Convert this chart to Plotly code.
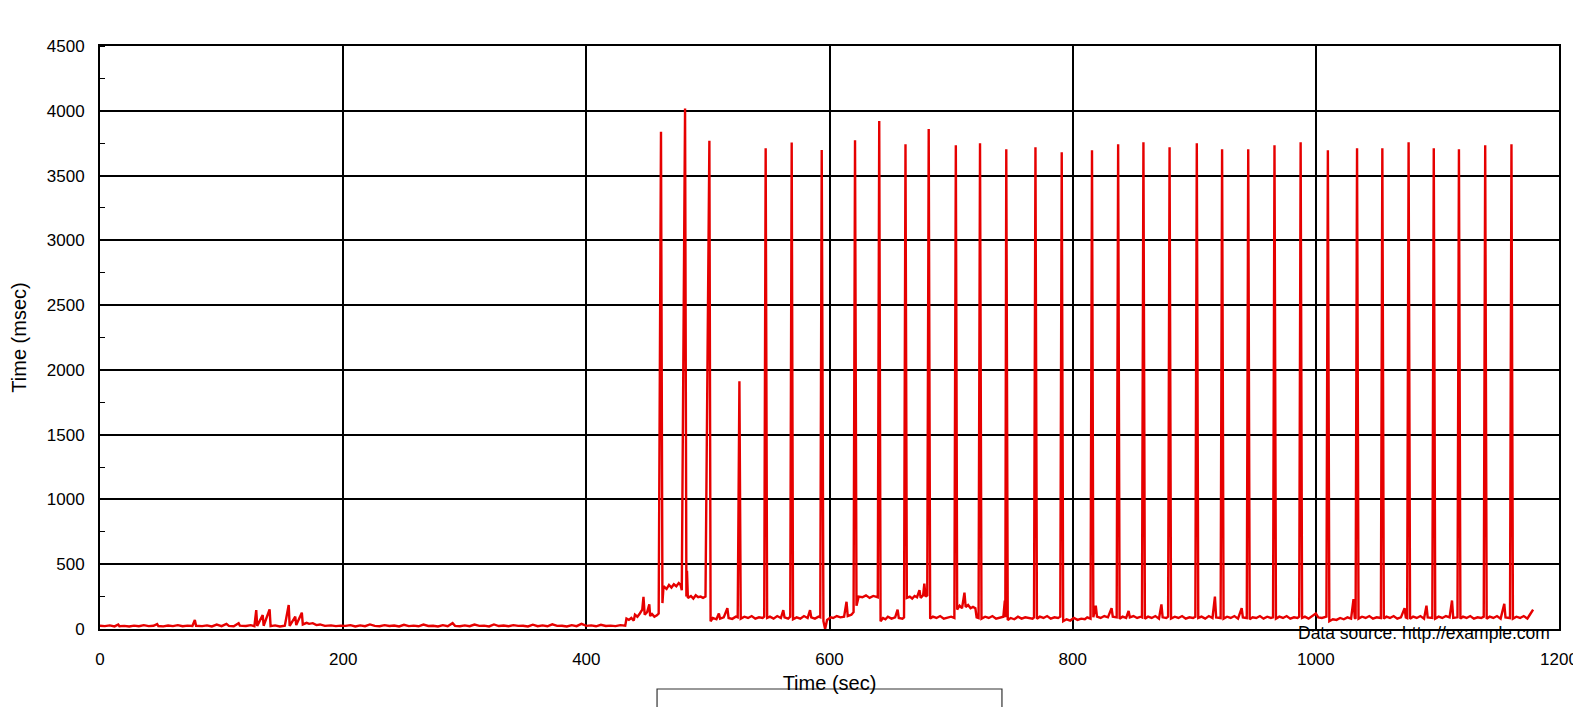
import plotly.graph_objects as go

# Response-time trace (time in sec, value in msec)
time_sec = [
    0, 4, 8, 12, 15, 16, 20, 24, 28, 32, 36, 40, 44, 47, 48, 52, 56, 60, 64, 68, 72, 76, 78, 79,
    84, 88, 92, 96, 100, 104, 106, 110, 114, 115, 120, 124, 127,
    128.5, 129.3, 133.8, 134.6, 139.5, 140.3, 144, 148, 152, 155.2, 156, 160.6, 161.4, 166, 166.8,
    170, 172, 175, 178, 181, 185, 190, 194, 198,
    202, 206, 210, 214, 218, 222, 226, 230, 234, 238, 242, 246, 250, 254, 258, 262, 266, 270, 274,
    278, 282, 286, 290, 292, 296, 300, 304, 308, 312, 316, 320, 324, 328, 332, 336, 340, 344, 348,
    352, 356, 360, 364, 368, 372, 376, 380, 384, 388, 392, 396, 400, 404, 408, 412, 416, 420, 424,
    428, 432,
    433, 435, 437, 439, 440, 442, 444, 446, 447, 448, 450, 451.8, 452.5, 454, 456, 458, 459.5,
    461.4, 462.6, 463.5, 466, 468, 470, 472, 474, 476, 477.5, 478.5,
    481.2, 482.3, 482.8, 483.5, 486, 488, 490, 492, 494, 496, 498,
    501.2, 502.2, 504, 507, 509, 510, 513, 516, 517, 520, 523, 524.5,
    525.9, 527, 530, 533, 536, 539, 542, 545, 546.3,
    547.5, 548.7, 551, 554, 557, 560, 562, 563, 566, 567.7,
    568.9, 570, 573, 576, 579, 582, 584, 585, 588, 591, 592.4,
    593.6, 595, 596.4, 598, 601, 603, 606, 609, 612, 614, 615, 618, 619.8,
    621.0, 622.2, 624, 627, 630, 633, 636, 638, 639.7,
    640.9, 642, 644, 646, 648, 651, 654, 656, 657, 660, 661.3,
    662.5, 663.6, 666, 668, 670, 672, 674, 675, 677, 678, 679, 680.4,
    681.6, 682.8, 685, 688, 691, 694, 697, 700, 702.7,
    703.9, 705, 707, 709, 711, 712, 714, 716, 718, 720, 721, 722.6,
    723.8, 725, 728, 731, 734, 737, 740, 743, 744.2, 744.6,
    745.4, 746.6, 749, 752, 755, 758, 761, 764, 767, 768.2,
    769.4, 770.6, 773, 776, 779, 782, 785, 788, 789.8,
    791.0, 792.2, 795, 798, 801, 804, 807, 810, 812, 814.7,
    815.9, 817, 819, 820, 823, 826, 829, 832, 833, 836.2,
    837.4, 838.6, 841, 844, 846, 847, 850, 853, 856, 857,
    858.2, 859.4, 862, 865, 868, 871, 873, 874, 877, 878.5,
    879.7, 880.9, 884, 887, 890, 893, 896, 899, 900.9,
    902.1, 903.3, 906, 909, 912, 915, 917, 918, 921.7,
    922.9, 924.1, 927, 930, 933, 936, 939, 940, 943.2,
    944.4, 945.6, 948, 951, 954, 957, 960, 963, 964.8,
    966.0, 967.2, 970, 973, 976, 979, 982, 985, 986.3,
    987.5, 988.7, 991, 994, 997, 1000, 1002, 1005, 1008.7,
    1009.9, 1011.1, 1014, 1017, 1020, 1023, 1026, 1029, 1031, 1032, 1032.7,
    1033.9, 1035.1, 1038, 1041, 1044, 1047, 1050, 1053.5,
    1054.7, 1055.9, 1058, 1061, 1064, 1067, 1070, 1073, 1074, 1075.1,
    1076.3, 1077.5, 1080, 1083, 1086, 1089, 1091, 1092, 1095.8,
    1097.0, 1098.2, 1101, 1104, 1107, 1110, 1112, 1113, 1116.5,
    1117.7, 1118.9, 1121, 1124, 1127, 1130, 1133, 1136, 1138.1,
    1139.3, 1140.5, 1143, 1146, 1149, 1152, 1155, 1156, 1159.7,
    1160.9, 1162.1, 1165, 1168, 1171, 1174, 1176, 1178.7,
]

resp_ms = [
    25, 22, 28, 20, 35, 22, 24, 19, 26, 21, 30, 22, 25, 38, 23, 20, 27, 22, 30, 21, 26, 24, 70, 25,
    22, 28, 20, 34, 22, 40, 24, 21, 45, 26, 23, 30, 22,
    146, 24, 108, 25, 152, 22, 28, 20, 26, 185, 24, 95, 30, 126, 35,
    48, 40, 45, 30, 35, 24, 28, 22, 26,
    24, 30, 20, 28, 22, 35, 24, 21, 30, 23, 27, 20, 32, 22, 26, 21, 34, 23, 25,
    20, 30, 22, 45, 24, 21, 28, 22, 34, 24, 26, 20, 35, 23, 27, 21, 30, 24, 25,
    20, 33, 22, 28, 21, 36, 24, 25, 20, 30, 22, 40, 24, 28, 21, 32, 23, 26, 22,
    30, 25,
    80, 70, 85, 65, 110, 95, 120, 150, 248, 110, 130, 190, 100, 115, 95, 105, 120,
    3838, 200, 330, 310, 340, 320, 345, 330, 355, 340, 300,
    4017, 250, 450, 240, 255, 235, 260, 245, 250, 240, 250,
    3769, 60, 85, 75, 119, 80, 90, 160, 85, 78, 95, 90,
    1912, 80, 95, 85, 100, 80, 90, 85, 95,
    3711, 85, 95, 80, 100, 85, 146, 90, 80, 95,
    3755, 75, 90, 80, 100, 85, 146, 90, 80, 95, 90,
    3697, 60, 0, 70, 90, 85, 100, 90, 95, 210, 100, 110, 130,
    3773, 180, 250, 245, 260, 240, 255, 250, 245,
    3921, 60, 85, 75, 95, 80, 90, 150, 85, 80, 90,
    3742, 240, 250, 235, 255, 245, 300, 240, 260, 350, 250, 260,
    3859, 80, 95, 85, 100, 80, 90, 95, 85,
    3734, 150, 180, 160, 280, 170, 185, 160, 170, 160, 90, 85,
    3750, 80, 95, 85, 100, 80, 90, 95, 220, 90,
    3703, 70, 85, 75, 95, 80, 90, 85, 80, 90,
    3718, 80, 95, 85, 100, 80, 90, 85, 95,
    3680, 60, 75, 65, 85, 70, 80, 75, 90, 80,
    3695, 90, 180, 95, 85, 100, 90, 160, 95, 90,
    3742, 80, 95, 85, 140, 90, 100, 85, 95, 90,
    3757, 80, 95, 85, 100, 80, 190, 90, 85, 95,
    3718, 80, 95, 85, 100, 80, 90, 85, 95,
    3750, 85, 95, 80, 100, 85, 250, 90, 85,
    3703, 80, 95, 85, 100, 80, 160, 90, 85,
    3703, 75, 90, 85, 100, 80, 95, 85, 90,
    3734, 80, 95, 85, 100, 80, 90, 85, 95,
    3757, 85, 95, 80, 100, 120, 90, 85, 95,
    3695, 60, 75, 70, 85, 75, 90, 80, 230, 85, 80,
    3711, 80, 95, 85, 100, 80, 90, 85,
    3711, 80, 95, 85, 100, 80, 90, 160, 90, 85,
    3757, 80, 95, 85, 100, 80, 180, 90, 85,
    3711, 80, 95, 85, 100, 90, 220, 85, 90,
    3703, 80, 95, 85, 100, 80, 90, 85, 95,
    3734, 80, 95, 85, 100, 80, 195, 90, 85,
    3742, 80, 95, 85, 100, 80, 110, 150,
]

x_ticks = [0, 200, 400, 600, 800, 1000, 1200]
y_ticks = [0, 500, 1000, 1500, 2000, 2500, 3000, 3500, 4000, 4500]

FONT = "Liberation Sans, Arial, sans-serif"

fig = go.Figure()
fig.add_trace(go.Scatter(
    x=time_sec, y=resp_ms, mode="lines",
    line=dict(color="#e60000", width=2.4),
    showlegend=False,
))

# page body has an 8px default margin, so the figure is sized/offset to compensate
fig.update_layout(
    width=1573, height=699,
    margin=dict(l=92, r=22, t=38, b=78, autoexpand=False),
    paper_bgcolor="white", plot_bgcolor="white",
    font=dict(family=FONT, size=17, color="black"),
    showlegend=False,
    xaxis=dict(
        range=[0, 1200], tickvals=x_ticks, ticktext=[str(v) for v in x_ticks],
        showgrid=True, gridcolor="black", gridwidth=2,
        showline=True, linecolor="black", linewidth=2, mirror=True,
        ticks="", ticklabelstandoff=14,
        tickfont=dict(size=17),
        title=dict(text="Time (sec)", font=dict(size=20), standoff=8),
        zeroline=False, automargin=False,
    ),
    yaxis=dict(
        range=[0, 4500], tickvals=y_ticks, ticktext=[str(v) for v in y_ticks],
        showgrid=True, gridcolor="black", gridwidth=2,
        showline=True, linecolor="black", linewidth=2, mirror=True,
        ticks="", ticklabelstandoff=10,
        tickfont=dict(size=17),
        minor=dict(dtick=250, ticks="inside", ticklen=5, tickcolor="black", tickwidth=1, showgrid=False),
        title=dict(text="Time (msec)", font=dict(size=20), standoff=16),
        zeroline=False, automargin=False,
    ),
)

# empty legend frame below the axis title (cut off by the page edge)
fig.add_shape(type="rect", xref="paper", yref="paper",
              x0=0.3818, x1=0.6182, y0=-0.1029, y1=-0.3,
              line=dict(color="#333333", width=1.2), fillcolor="rgba(0,0,0,0)")

fig.add_annotation(text="Data source: http://example.com",
                   xref="paper", yref="paper", x=0.995, y=-0.007,
                   xanchor="right", yanchor="middle", showarrow=False,
                   font=dict(size=17.5, family=FONT, color="black"))

fig.write_html("out.html")
